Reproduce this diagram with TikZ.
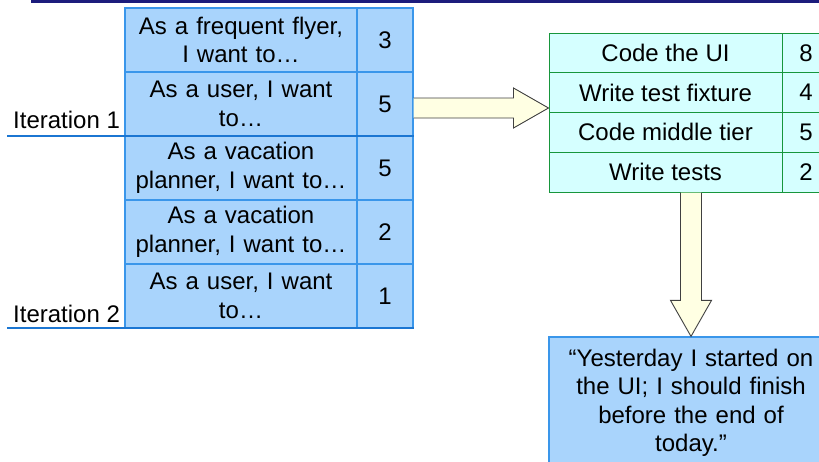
\documentclass[tikz,border=0pt]{standalone}
\usepackage{fontspec}
\setmainfont{Liberation Sans}
\usetikzlibrary{calc}
\definecolor{storyfill}{HTML}{A9D4FC}
\definecolor{storyline}{HTML}{3A96EA}
\definecolor{iterline}{HTML}{1B76D2}
\definecolor{taskfill}{HTML}{D5FFFF}
\definecolor{taskline}{HTML}{17963C}
\definecolor{arrowfill}{HTML}{FFFFE3}
\definecolor{topline}{HTML}{1C1C7C}
\tikzset{
  base/.style={font=\fontsize{24}{28.5}\selectfont, inner sep=0pt, align=center},
  story/.style={base, draw=storyline, fill=storyfill, line width=1.2pt,
    minimum width=232pt, minimum height=64pt, text width=228pt},
  points/.style={base, draw=storyline, fill=storyfill, line width=1.2pt,
    minimum width=56pt, minimum height=64pt},
  task/.style={base, draw=taskline, fill=taskfill, line width=1pt,
    minimum width=233pt, minimum height=39.75pt},
  hours/.style={base, draw=taskline, fill=taskfill, line width=1pt,
    minimum width=48pt, minimum height=39.75pt},
  quote/.style={base, draw=storyline, fill=storyfill, line width=1.2pt,
    minimum width=284pt, minimum height=132pt, text width=280pt},
  iterlabel/.style={base, anchor=base west},
  iterrule/.style={draw=iterline, line width=2.6pt},
  blockarrow/.style={draw=black!75, fill=arrowfill, line width=0.9pt, line join=miter}
}
\begin{document}
\begin{tikzpicture}[x=1pt, y=-1pt]
\clip (0,0) rectangle (819,461);
\useasboundingbox (0,0) rectangle (819,461);

% title rule
\draw[topline, line width=3pt] (31,1) -- (840,1);

% backlog of stories
\node[story]  (s1) at (241,40)  {As a frequent flyer,\\I want to…};
\node[points] (p1) at (385,40)  {3};
\node[story]  (s2) at (241,104) {As a user, I want\\to…};
\node[points] (p2) at (385,104) {5};
\node[story]  (s3) at (241,168) {As a vacation\\planner, I want to…};
\node[points] (p3) at (385,168) {5};
\node[story]  (s4) at (241,232) {As a vacation\\planner, I want to…};
\node[points] (p4) at (385,232) {2};
\node[story]  (s5) at (241,296) {As a user, I want\\to…};
\node[points] (p5) at (385,296) {1};

% iteration boundaries
\node[iterlabel] (it1) at (13,128) {Iteration 1};
\node[iterlabel] (it2) at (13,322) {Iteration 2};
\coordinate (r1) at (7,136);
\coordinate (r2) at (7,328);
\draw[iterrule] (r1) -- (r1 -| p2.east);
\draw[iterrule] (r2) -- (r2 -| p5.east);

% task breakdown
\node[task]  (t1) at (665.5,52.875)  {Code the UI};
\node[hours] (h1) at (806,52.875)    {8};
\node[task]  (t2) at (665.5,92.625)  {Write test fixture};
\node[hours] (h2) at (806,92.625)    {4};
\node[task]  (t3) at (665.5,132.375) {Code middle tier};
\node[hours] (h3) at (806,132.375)   {5};
\node[task]  (t4) at (665.5,172.125) {Write tests};
\node[hours] (h4) at (806,172.125)   {2};

% daily status
\node[quote] (q) at (691,403) {“Yesterday I started on\\the UI; I should finish\\before the end of\\today.”};

% arrow: story to tasks
\coordinate (aS) at ([yshift=-4pt]p2.east);
\coordinate (aT) at (aS -| t2.west);
\draw[blockarrow]
  ($(aS)+(0,-10)$) -- ($(aT)+(-35,-10)$) -- ($(aT)+(-35,-20)$) -- (aT)
  -- ($(aT)+(-35,20)$) -- ($(aT)+(-35,10)$) -- ($(aS)+(0,10)$);

% arrow: tasks to status
\coordinate (dS) at (q.north |- t4.south);
\coordinate (dT) at (q.north);
\draw[blockarrow]
  ($(dS)+(-10.5,0)$) -- ($(dT)+(-10.5,-36)$) -- ($(dT)+(-20.5,-36)$) -- (dT)
  -- ($(dT)+(20.5,-36)$) -- ($(dT)+(10.5,-36)$) -- ($(dS)+(10.5,0)$);
\end{tikzpicture}
\end{document}
